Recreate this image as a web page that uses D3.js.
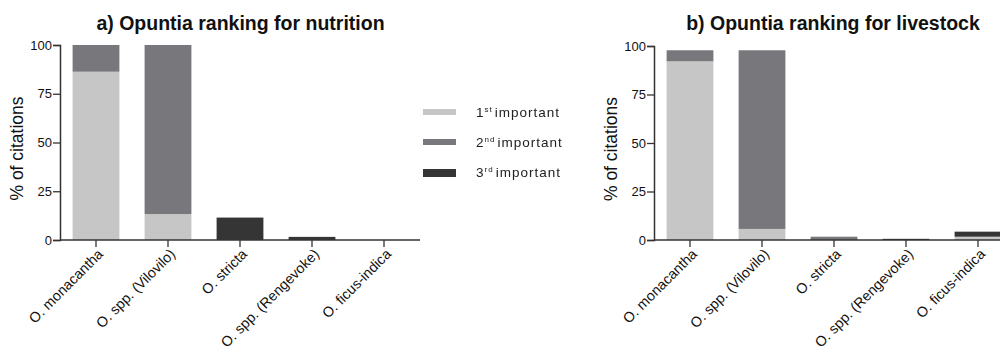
<!DOCTYPE html>
<html>
<head>
<meta charset="utf-8">
<script src="https://cdn.jsdelivr.net/npm/d3@7"></script>
<style>
  html, body { margin: 0; padding: 0; background: #fff; }
  svg { display: block; }
  svg text { font-family: "Liberation Sans", Arial, sans-serif; }
</style>
</head>
<body>
<svg id="chart" width="1000" height="353"></svg>
<script>
// Opuntia species shown on both panels
const categories = ["O. monacantha", "O. spp. (Vilovilo)", "O. stricta", "O. spp. (Rengevoke)", "O. ficus-indica"];

// Ranking levels (stack order, bottom to top)
const ranks = ["1st", "2nd", "3rd"];

// % of citations, panel a (nutrition)
const nutrition1st = [86.3, 13.3, 0, 0, 0];
const nutrition2nd = [13.7, 86.7, 0, 0, 0];
const nutrition3rd = [0, 0, 11.5, 1.6, 0];

// % of citations, panel b (livestock)
const livestock1st = [92.1, 5.7, 0, 0, 1.7];
const livestock2nd = [5.7, 92.1, 1.7, 0, 0];
const livestock3rd = [0, 0, 0, 0.6, 2.6];

const yTicks = [0, 25, 50, 75, 100];
const rankColors = ["#c6c6c6", "#78777c", "#353535"];

const svg = d3.select("#chart");

function buildRows(a, b, c) {
  return categories.map((name, i) => ({ name, "1st": a[i], "2nd": b[i], "3rd": c[i] }));
}

function drawPanel(opts) {
  const g = svg.append("g");
  const x = d3.scaleBand().domain(categories).range(opts.xRange).paddingInner(0.35).paddingOuter(0.175);
  const y = d3.scaleLinear().domain([0, 100]).range(opts.yRange);

  const stack = d3.stack().keys(ranks)(opts.rows);
  const color = d3.scaleOrdinal().domain(ranks).range(rankColors);

  g.append("g").selectAll("g")
    .data(stack).join("g")
    .attr("fill", d => color(d.key))
    .selectAll("rect")
    .data(d => d.filter(p => p[1] - p[0] > 0))
    .join("rect")
    .attr("x", d => x(d.data.name))
    .attr("width", x.bandwidth())
    .attr("y", d => y(d[1]))
    .attr("height", d => y(d[0]) - y(d[1]));

  // y axis
  const yAxis = g.append("g")
    .attr("transform", `translate(${opts.xRange[0]},0)`)
    .call(d3.axisLeft(y).tickValues(yTicks).tickSize(7).tickPadding(1));
  yAxis.attr("font-family", null);
  yAxis.select(".domain").attr("stroke", "#333").attr("stroke-width", 1.5);
  yAxis.selectAll(".tick line").attr("stroke", "#333").attr("stroke-width", 1.3);
  yAxis.selectAll("text").style("font-size", "13px").attr("fill", "#111");

  // x axis
  const xAxis = g.append("g")
    .attr("transform", `translate(0,${opts.yRange[0]})`)
    .call(d3.axisBottom(x).tickSize(7).tickSizeOuter(0));
  xAxis.attr("font-family", null);
  xAxis.select(".domain").attr("stroke", "#333").attr("stroke-width", 1.5)
    .attr("d", `M${opts.xRange[0]},0H${opts.axisEnd}`);
  xAxis.selectAll(".tick line").attr("stroke", "#333").attr("stroke-width", 1.3);
  xAxis.selectAll("text")
    .style("font-size", "14.3px").attr("fill", "#111")
    .attr("text-anchor", "end")
    .attr("dy", null)
    .attr("x", 0).attr("y", 0)
    .attr("transform", "translate(8,15) rotate(-45)");

  // y axis title
  g.append("text")
    .attr("transform", `translate(${opts.xRange[0] - 37},${(opts.yRange[0] + opts.yRange[1]) / 2 + 6}) rotate(-90)`)
    .attr("text-anchor", "middle")
    .style("font-size", "17.5px")
    .attr("fill", "#111")
    .text("% of citations");

  // panel title
  g.append("text")
    .attr("x", opts.titleX).attr("y", 30)
    .attr("text-anchor", "middle")
    .style("font-size", "19.5px").attr("font-weight", "bold")
    .attr("fill", "#111")
    .text(opts.title);
}

drawPanel({
  rows: buildRows(nutrition1st, nutrition2nd, nutrition3rd),
  xRange: [60, 420], yRange: [240, 45], axisEnd: 420,
  title: "a) Opuntia ranking for nutrition", titleX: 240.5
});

drawPanel({
  rows: buildRows(livestock1st, livestock2nd, livestock3rd),
  xRange: [654, 1014], yRange: [240, 46], axisEnd: 1000,
  title: "b) Opuntia ranking for livestock", titleX: 833
});

// Legend (softened, as in the printed figure)
const defs = svg.append("defs");
defs.append("filter").attr("id", "soft")
  .append("feGaussianBlur").attr("stdDeviation", 0.7);

const legend = svg.append("g").attr("filter", "url(#soft)");
const sups = ["st", "nd", "rd"];
const legendY = [112, 142, 172];
ranks.forEach((r, i) => {
  legend.append("rect")
    .attr("x", 423).attr("y", legendY[i] - 3).attr("width", 33).attr("height", 6 + (i === 2 ? 2 : 0))
    .attr("fill", rankColors[i]);
  const t = legend.append("text")
    .attr("x", 476).attr("y", legendY[i] + 5)
    .style("font-size", "13.5px").attr("fill", "#222")
    .attr("letter-spacing", 1);
  t.append("tspan").text(r.charAt(0));
  t.append("tspan").style("font-size", "8px").attr("dy", -5).text(sups[i]);
  t.append("tspan").attr("dy", 5).attr("dx", 2).text("important");
});
</script>
</body>
</html>
